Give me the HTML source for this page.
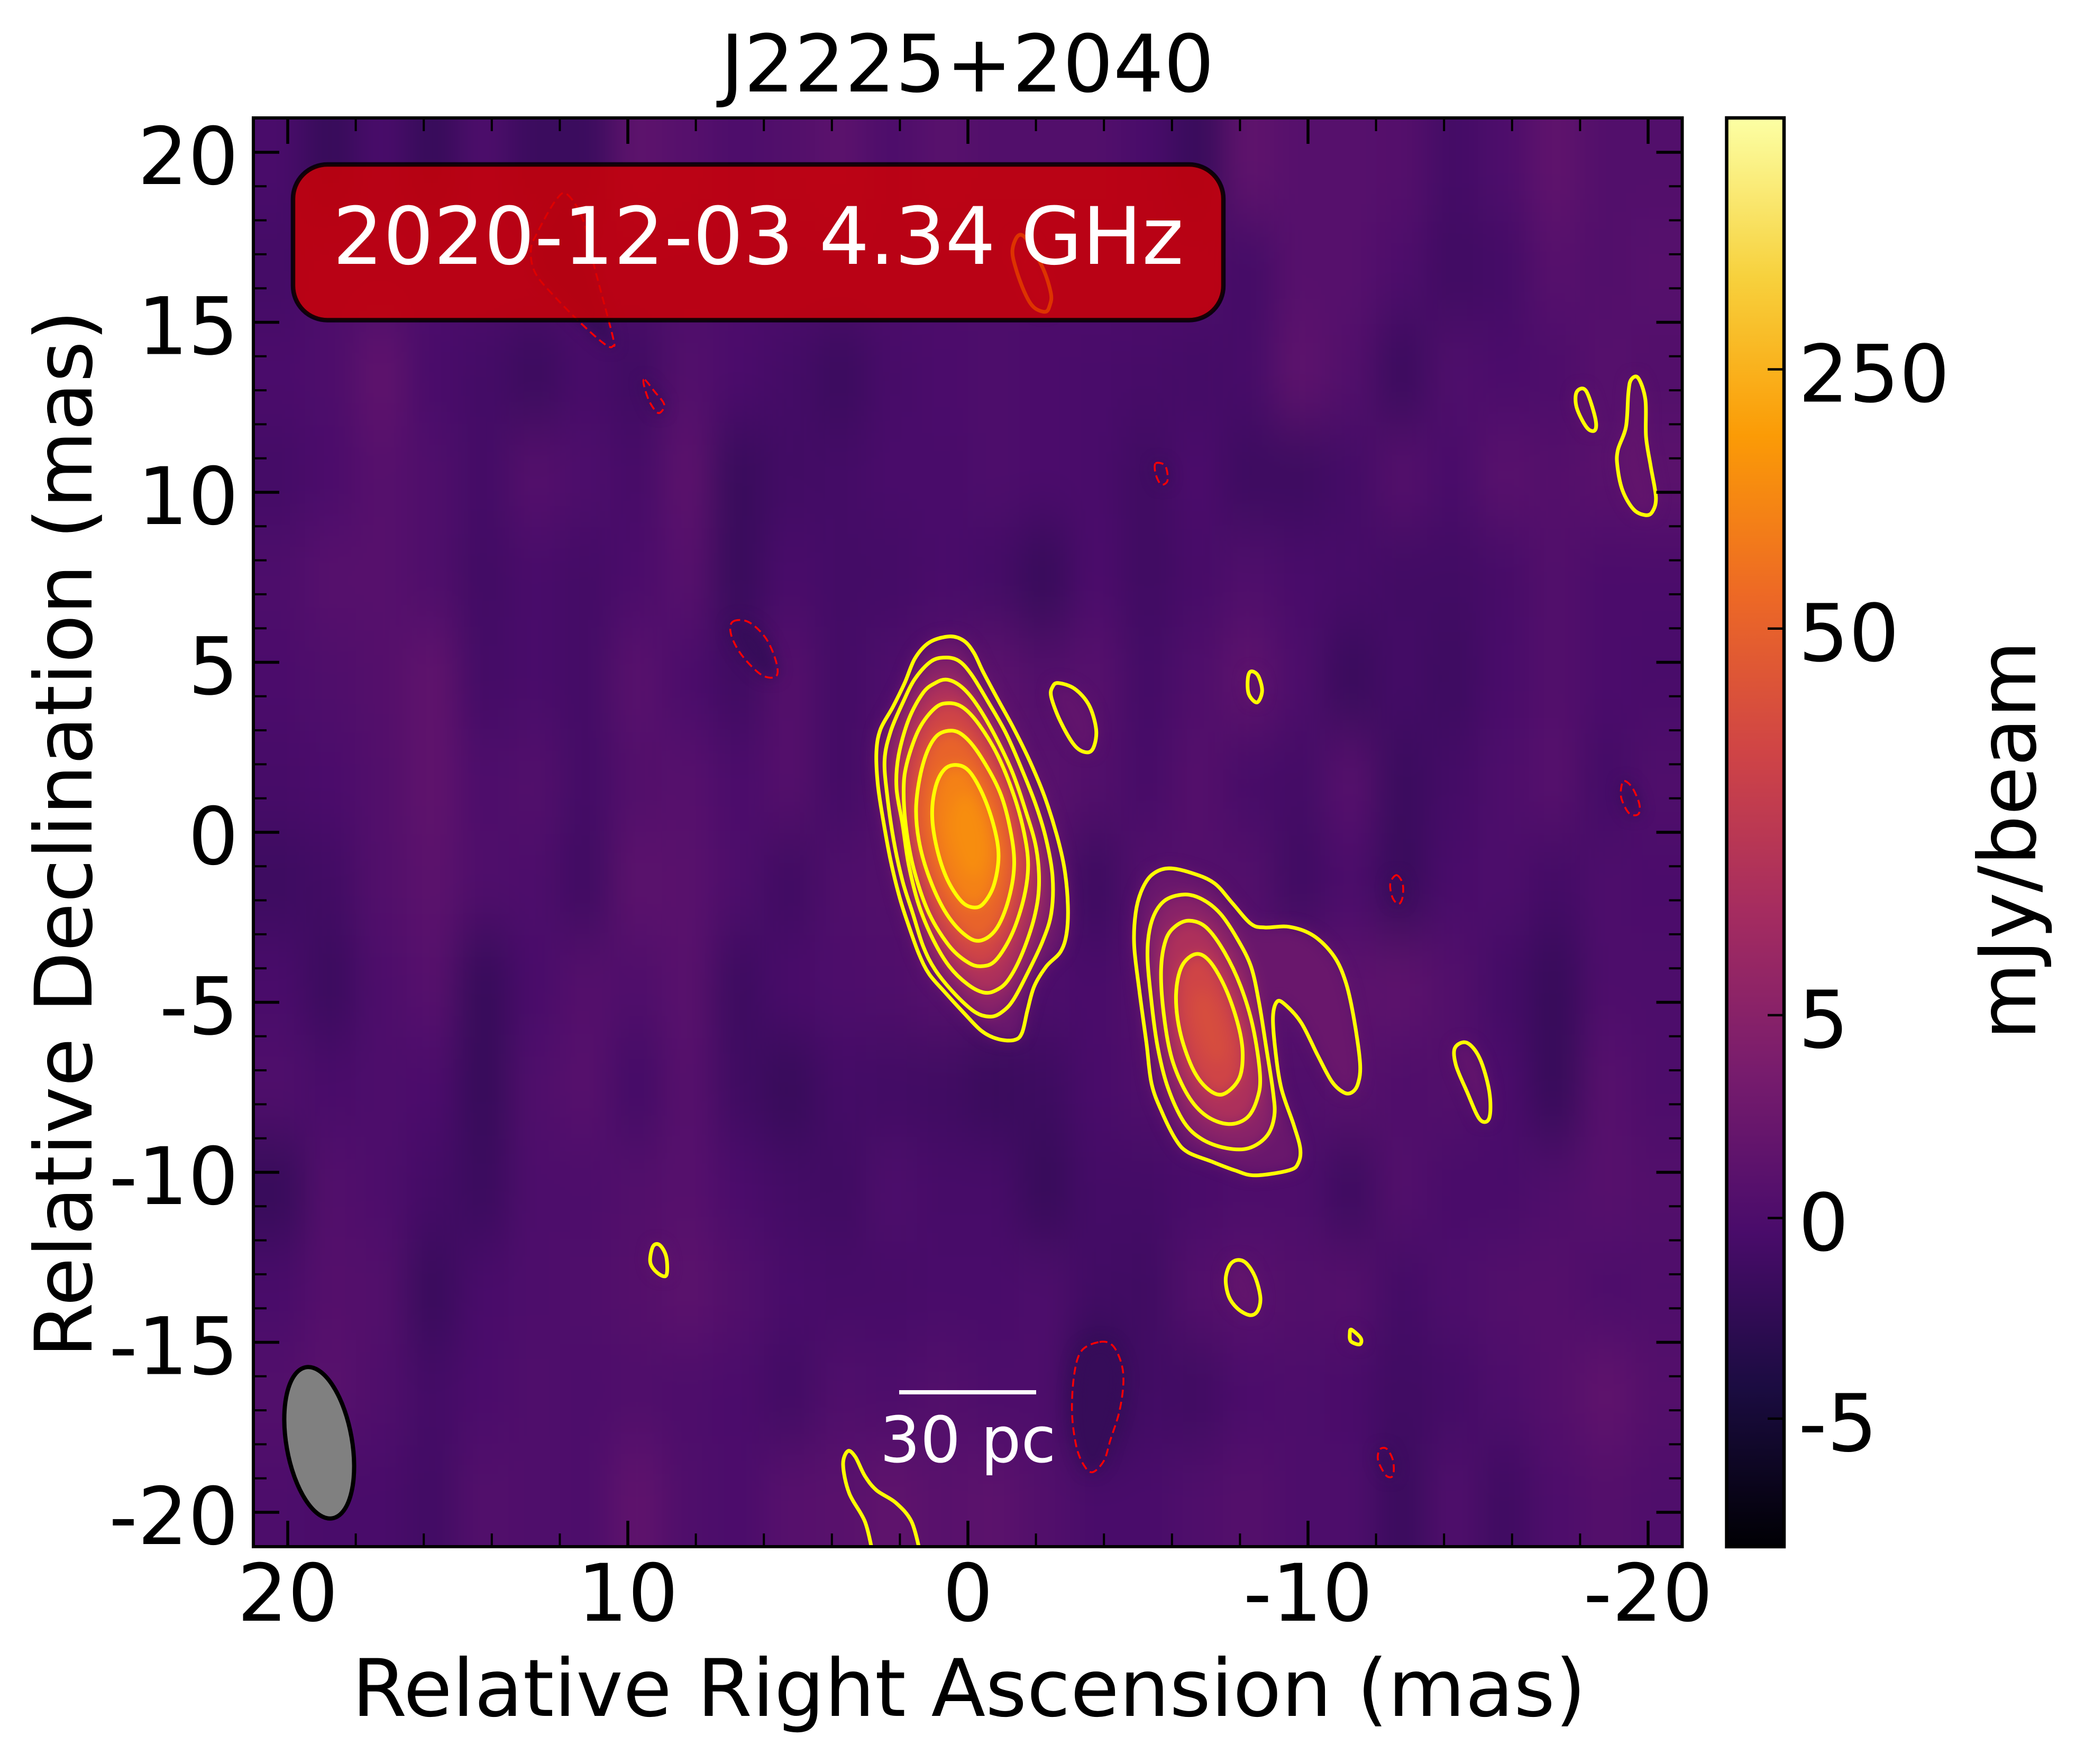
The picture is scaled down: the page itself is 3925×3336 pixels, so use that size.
<!DOCTYPE html>
<html lang="en">
<head>
<meta charset="utf-8">
<title>J2225+2040</title>
<style>
html,body{margin:0;padding:0;background:#fff;width:3925px;height:3336px;overflow:hidden}
svg{display:block}
text{font-family:"DejaVu Sans","Liberation Sans",sans-serif;font-size:150px;fill:#000}
</style>
</head>
<body>
<svg id="chart" xmlns="http://www.w3.org/2000/svg" width="3925" height="3336" viewBox="0 0 3925 3336">
  <defs>
    <clipPath id="axes-clip"><rect x="479" y="223" width="2701.5" height="2702"/></clipPath>
    <filter id="noise-blur" filterUnits="userSpaceOnUse" x="250" y="0" width="3200" height="3200" color-interpolation-filters="sRGB"><feGaussianBlur stdDeviation="30 62"/></filter>
    <filter id="source-blur" filterUnits="userSpaceOnUse" x="300" y="50" width="3100" height="3100" color-interpolation-filters="sRGB"><feGaussianBlur stdDeviation="13"/></filter>
    <linearGradient id="inferno-gradient" x1="0" y1="1" x2="0" y2="0"></linearGradient>
  </defs>
  <rect x="0" y="0" width="3925" height="3336" fill="#fff"/>
  <text x="1829" y="173" text-anchor="middle">J2225+2040</text>
  <g clip-path="url(#axes-clip)">
    <rect x="479" y="223" width="2702" height="2702" fill="#4c0e6b"/>
    <g id="heatmap" filter="url(#noise-blur)"></g>
    <g id="source-fill" filter="url(#source-blur)"></g>
    <g id="contours" fill="none"></g>
    <ellipse cx="603.5" cy="2728.5" rx="62" ry="145" transform="rotate(-10 603.5 2728.5)" fill="#808080" stroke="#000" stroke-width="8"/>
    <rect x="554" y="311" width="1759" height="294.5" rx="65" ry="65" fill="rgb(213,0,0)" fill-opacity="0.8" stroke="#000" stroke-opacity="0.85" stroke-width="8.5"/>
    <text x="1433.5" y="499" text-anchor="middle" style="fill:#fff">2020-12-03 4.34 GHz</text>
    <rect x="1700" y="2629" width="259" height="8" fill="#fff"/>
    <text x="1830" y="2765" text-anchor="middle" style="fill:#fff;font-size:120px">30 pc</text>
  </g>
  <g id="ticks"></g>
  <rect x="479" y="223" width="2701.5" height="2702" fill="none" stroke="#000" stroke-width="6"/>
  <text x="1832" y="3245" text-anchor="middle">Relative Right Ascension (mas)</text>
  <text transform="translate(173 1577) rotate(-90)" text-anchor="middle">Relative Declination (mas)</text>
  <rect x="3264.5" y="223" width="108.5" height="2702" fill="url(#inferno-gradient)"/>
  <g id="cbar-ticks"></g>
  <rect x="3264.5" y="223" width="108.5" height="2702" fill="none" stroke="#000" stroke-width="6.5"/>
  <text transform="translate(3848 1589) rotate(-90)" text-anchor="middle">mJy/beam</text>
</svg>
<script>
// ---- axis ticks and labels ----
const xMajorTicks = [20, 10, 0, -10, -20];
const xMinorTicks = [18, 16, 14, 12, 8, 6, 4, 2, -2, -4, -6, -8, -12, -14, -16, -18];
const xTickLabels = ["20", "10", "0", "-10", "-20"];
const yMajorTicks = [20, 15, 10, 5, 0, -5, -10, -15, -20];
const yMinorTicks = [19,18,17,16,14,13,12,11,9,8,7,6,4,3,2,1,-1,-2,-3,-4,-6,-7,-8,-9,-11,-12,-13,-14,-16,-17,-18,-19];
const yTickLabels = ["20", "15", "10", "5", "0", "-5", "-10", "-15", "-20"];

// ---- colour scale ----
const cbarTickValues = [-5, 0, 5, 50, 250];
const cbarTickLabels = ["-5", "0", "5", "50", "250"];
const cbarTickFractions = [0.0896, 0.230, 0.372, 0.6426, 0.824];
const infernoColors = ["#000004","#1b0c41","#4a0c6b","#781c6d","#a52c60","#cf4446","#ed6925","#fb9b06","#f7d13d","#fcffa4"];

// ---- background noise map (rows top to bottom, columns east to west) ----
const noiseXCenters = [20.25,18.75,17.25,15.75,14.25,12.75,11.25,9.75,8.25,6.75,5.25,3.75,2.25,0.75,-0.75,-2.25,-3.75,-5.25,-6.75,-8.25,-9.75,-11.25,-12.75,-14.25,-15.75,-17.25,-18.75,-20.25];
const noiseYCenters = [19.5,16.5,13.5,10.5,7.5,4.5,1.5,-1.5,-4.5,-7.5,-10.5,-13.5,-16.5,-19.5];
const noiseCellWidth = 1.5;
const noiseCellHeight = 3;
const noiseZero = 10;
const noiseUnit = 0.19;
const noiseRows = [
 [-12,-20,-12,-20,-10,-18,-18,-3,-6,-10,-8,-4,-10,-5, -8,-8,-8,-12,-19,-2,-6,-6,-7,-14,-10,-2,-8,-8],
 [-14,-10,-10,-10,-10,-10,-10,-10,-10,-10,-10,-10,-10,-10, -10,-10,-10,-10,-10,-14,-6,-6,-10,-16,-14,-6,-8,-6],
 [-11,-10,-2,-12,-14,-18,-13,-16,-8,-11,-14,-18,-13,-11, -10,-11,-12,-13,-14,-13,-3,-8,-18,-9,-11,-10,-6,-8],
 [-14,-11,-6,-9,-14,-7,-10,-13,-4,-19,-15,-14,-12,-12, -10,-11,-12,-16,-11,-17,-17,-14,-7,-12,-5,-7,-5,-4],
 [-10,-6,-6,-9,-15,-12,-14,-11,-6,-19,-12,-14,-14,-12, -14,-20,-11,-16,-13,-9,-12,-13,-15,-15,-13,-8,-11,-11],
 [-11,-9,-7,-2,-14,-12,-14,-5,-11,-16,-7,-14,-10,-7, -4,-8,-6,-14,-9,-3,-10,-19,-14,-17,-12,-8,-11,-12],
 [-13,-11,-8,-2,-10,-8,-14,-8,-6,-11,-7,-14,-8,0, -2,-5,-8,-13,-7,-13,-14,-6,-18,-14,-10,-6,-14,-9],
 [-17,-15,-8,-4,-9,-10,-16,-4,-5,-10,-16,-9,-8,-4, -4,-6,-17,-8,-8,-8,-16,-11,-19,-12,-10,-14,-10,-11],
 [-12,-18,-10,-6,-20,-12,-7,-9,-5,-17,-12,-10,-9,-6, -8,-10,-12,-8,-6,-6,-5,-4,-3,-8,-14,-20,-10,-10],
 [-9,-12,-10,-11,-20,-9,-6,-14,-6,-16,-20,-14,-15,-16, -19,-17,-12,-9,-7,-7,-9,-5,-9,-8,-11,-20,-6,-10],
 [-20,-8,-10,-14,-18,-10,-10,-8,-6,-11,-14,-16,-10,-13, -13,-20,-14,-14,-12,-10,-10,-17,-8,-12,-12,-9,-6,-8],
 [-12,-7,-8,-19,-12,-10,-9,-7,-4,-8,-12,-13,-13,-12, -12,-10,-15,-16,-8,-5,-8,-7,-14,-10,-8,-7,-10,-9],
 [-8,-5,-9,-14,-11,-9,-10,-9,-10,-11,-15,-9,-10,-8, -10,-10,-26,-15,-16,-11,-10,-12,-16,-14,-10,-7,-2,-7],
 [-10,-12,-12,-15,-8,-9,-10,-2,-9,-11,-6,-5,-2,-5, -4,-8,-12,-12,-9,-7,-10,-10,-18,-9,-16,-10,-7,-9]
];

// ---- positive contours, in mas (RA, Dec) ----
const coreContour1 = [[.55,5.76],[.13,5.64],[-.17,5.29],[-.46,4.69],[-.94,3.80],[-1.36,3.03],[-1.83,2.07],[-2.25,1.06],[-2.61,-.07],[-2.84,-1.08],[-2.94,-2.15],[-2.90,-2.98],[-2.72,-3.52],[-2.31,-3.94],[-1.95,-4.53],[-1.75,-5.24],[-1.59,-5.90],[-1.36,-6.11],[-.88,-6.08],[-.40,-5.84],[.13,-5.30],[.67,-4.71],[1.14,-4.17],[1.44,-3.58],[1.74,-2.75],[2.01,-1.91],[2.27,-.84],[2.49,.35],[2.65,1.42],[2.69,2.37],[2.57,3.03],[2.21,3.68],[1.86,4.39],[1.56,5.11],[1.14,5.58]];
const coreContour2 = [[.63,5.14],[.25,5.03],[-.11,4.63],[-.58,3.86],[-1.12,2.91],[-1.59,1.84],[-2.01,.77],[-2.31,-.25],[-2.49,-1.32],[-2.45,-2.39],[-2.19,-3.22],[-1.77,-4.11],[-1.36,-4.89],[-1.06,-5.24],[-.70,-5.42],[-.23,-5.30],[.37,-4.77],[.96,-4.05],[1.32,-3.34],[1.62,-2.39],[1.92,-1.44],[2.18,-.25],[2.37,1.06],[2.45,2.13],[2.27,2.97],[1.92,3.80],[1.56,4.51],[1.08,5.03]];
const coreContour3 = [[.61,4.49],[.19,4.28],[-.23,3.80],[-.76,2.91],[-1.30,1.78],[-1.71,.59],[-2.01,-.48],[-2.09,-1.56],[-1.95,-2.51],[-1.59,-3.58],[-1.18,-4.35],[-.82,-4.65],[-.46,-4.71],[.01,-4.47],[.55,-3.94],[1.02,-3.16],[1.44,-2.15],[1.74,-.96],[1.92,.23],[2.10,1.30],[2.04,2.25],[1.74,3.32],[1.32,4.10],[.96,4.39]];
const coreContour4 = [[.55,3.80],[.13,3.66],[-.34,3.15],[-.88,2.25],[-1.36,1.06],[-1.65,-.01],[-1.77,-.96],[-1.65,-1.91],[-1.30,-2.98],[-.82,-3.76],[-.40,-3.94],[.01,-3.82],[.55,-3.34],[1.14,-2.39],[1.56,-1.20],[1.80,-.01],[1.89,1.18],[1.80,2.01],[1.44,3.03],[.96,3.66]];
const coreContour5 = [[.49,2.99],[.07,2.79],[-.40,2.19],[-.94,1.18],[-1.24,.11],[-1.36,-.96],[-1.18,-2.03],[-.82,-2.86],[-.34,-3.19],[.13,-2.98],[.67,-2.33],[1.14,-1.32],[1.44,-.25],[1.52,.82],[1.32,2.01],[.96,2.79]];
const coreContour6 = [[.33,1.98],[-.05,1.78],[-.46,1.06],[-.78,.11],[-.90,-.72],[-.76,-1.56],[-.46,-2.09],[-.17,-2.21],[.19,-2.03],[.61,-1.38],[.91,-.48],[1.05,.47],[.96,1.30],[.70,1.84]];
const jetContour1 = [[-5.88,-1.06],[-6.59,-1.20],[-7.25,-1.50],[-7.78,-2.09],[-8.32,-2.69],[-8.73,-2.80],[-9.45,-2.78],[-10.16,-3.04],[-10.76,-3.64],[-11.11,-4.41],[-11.35,-5.48],[-11.53,-6.79],[-11.47,-7.39],[-11.29,-7.65],[-11.05,-7.65],[-10.70,-7.33],[-10.28,-6.55],[-9.80,-5.60],[-9.33,-5.07],[-9.09,-4.98],[-8.97,-5.42],[-9.03,-6.32],[-9.21,-7.51],[-9.57,-8.58],[-9.77,-9.29],[-9.72,-9.71],[-9.45,-9.94],[-8.44,-10.09],[-7.84,-9.94],[-7.13,-9.67],[-6.47,-9.41],[-6.12,-9.05],[-5.70,-8.22],[-5.40,-7.39],[-5.25,-6.20],[-5.04,-4.65],[-4.89,-3.34],[-4.93,-2.39],[-5.10,-1.73],[-5.40,-1.26]];
const jetContour2 = [[-6.35,-1.83],[-6.89,-1.97],[-7.42,-2.39],[-7.90,-3.10],[-8.32,-3.94],[-8.56,-5.01],[-8.77,-6.32],[-8.97,-7.62],[-9.01,-8.34],[-8.79,-8.93],[-8.26,-9.29],[-7.60,-9.29],[-6.89,-9.03],[-6.35,-8.52],[-5.88,-7.51],[-5.58,-6.32],[-5.40,-5.01],[-5.28,-3.58],[-5.40,-2.63],[-5.76,-2.03]];
const jetContour3 = [[-6.53,-2.60],[-7.01,-2.80],[-7.54,-3.52],[-8.02,-4.53],[-8.38,-5.72],[-8.59,-7.15],[-8.50,-7.86],[-8.20,-8.40],[-7.66,-8.58],[-7.01,-8.34],[-6.47,-7.74],[-6.00,-6.67],[-5.76,-5.36],[-5.68,-4.05],[-5.82,-3.16],[-6.12,-2.75]];
const jetContour4 = [[-6.71,-3.58],[-7.13,-3.82],[-7.60,-4.65],[-7.96,-5.72],[-8.08,-6.55],[-7.96,-7.27],[-7.48,-7.71],[-7.01,-7.51],[-6.59,-6.91],[-6.23,-5.84],[-6.12,-4.77],[-6.29,-3.94]];

// ---- isolated positive islands, in mas ----
const islandNearCore = [[-2.66,4.39],[-3.14,4.22],[-3.56,3.74],[-3.77,3.03],[-3.70,2.51],[-3.50,2.35],[-3.14,2.55],[-2.72,3.26],[-2.45,3.98],[-2.49,4.28]];
const islandSmallUpper = [[-8.32,4.73],[-8.53,4.61],[-8.65,4.16],[-8.50,3.82],[-8.26,4.06],[-8.23,4.51]];
const islandFarRight = [[-19.50,13.31],[-19.71,13.36],[-19.92,12.72],[-19.94,11.63],[-20.08,10.75],[-20.23,9.84],[-20.12,9.42],[-19.91,9.33],[-19.57,9.50],[-19.25,10.05],[-19.10,10.75],[-19.11,11.24],[-19.35,11.93],[-19.42,12.92]];
const islandUpperRight = [[-17.9,12.95],[-18.17,12.99],[-18.44,12.21],[-18.44,11.83],[-18.2,11.9],[-17.9,12.49]];
const islandEast = [[-14.32,-6.34],[-14.67,-6.19],[-15.05,-6.65],[-15.33,-7.62],[-15.33,-8.40],[-15.05,-8.44],[-14.67,-7.62],[-14.35,-6.85]];
const islandSouth = [[-7.93,-12.58],[-8.19,-12.68],[-8.45,-13.09],[-8.60,-13.70],[-8.51,-14.09],[-8.28,-14.20],[-7.93,-14.01],[-7.67,-13.65],[-7.58,-13.14],[-7.70,-12.73]];
const islandTiny = [[-11.28,-14.63],[-11.55,-14.88],[-11.52,-15.06],[-11.26,-14.97],[-11.23,-14.73]];
const islandLeft = [[9.26,-12.18],[9.06,-12.14],[8.87,-12.49],[8.87,-13.03],[9.14,-12.95],[9.34,-12.64]];
const islandBadge = [[-1.48,17.55],[-1.74,17.42],[-2.21,16.58],[-2.44,15.85],[-2.41,15.51],[-2.28,15.31],[-1.94,15.44],[-1.68,15.85],[-1.41,16.58],[-1.31,17.12]];
const openContourBottom = [[1.40,-21.2],[1.66,-20.27],[2.12,-19.72],[2.69,-19.35],[3.03,-18.93],[3.31,-18.37],[3.53,-18.20],[3.67,-18.60],[3.49,-19.44],[3.03,-20.27],[2.80,-21.2]];

// ---- negative contours (dashed), in mas ----
const negBadge = [[11.78,18.76],[11.31,17.99],[10.97,16.58],[10.44,14.57],[10.44,14.30],[10.64,14.33],[11.24,14.84],[12.11,15.71],[12.72,16.45],[12.85,17.12],[12.65,17.66],[12.11,18.60]];
const negUpperLeft = [[9.50,13.31],[9.22,12.97],[8.93,12.58],[9.10,12.33],[9.36,12.66],[9.53,13.17]];
const negMidLeft = [[6.92,6.19],[6.46,6.19],[5.95,5.72],[5.64,5.02],[5.64,4.59],[6.07,4.63],[6.65,5.21],[6.96,5.80]];
const negTop = [[-5.52,10.85],[-5.80,10.78],[-5.87,10.35],[-5.68,10.23],[-5.52,10.54]];
const negRight = [[-19.30,1.51],[-19.53,1.32],[-19.74,.84],[-19.71,.53],[-19.44,.56],[-19.22,.98],[-19.21,1.32]];
const negEast = [[-12.60,-1.26],[-12.78,-1.50],[-12.78,-1.91],[-12.66,-2.11],[-12.48,-1.91],[-12.42,-1.50]];
const negBig = [[-3.87,-14.99],[-4.25,-15.09],[-4.51,-15.61],[-4.57,-16.22],[-4.45,-17.05],[-4.19,-17.87],[-4.00,-18.48],[-3.67,-18.82],[-3.42,-18.63],[-3.19,-18.07],[-3.06,-17.05],[-3.13,-15.91],[-3.35,-15.24]];
const negSouth = [[-12.12,-18.14],[-12.32,-18.14],[-12.50,-18.48],[-12.50,-18.91],[-12.32,-18.94],[-12.12,-18.63],[-12.05,-18.38]];

// ---- interior isophotes used only for the emission colour ----
const corePeak = [[.25,1.1],[-.2,.9],[-.5,.1],[-.55,-.7],[-.3,-1.3],[.05,-1.2],[.4,-.5],[.55,.3]];
const jetPeak = [[-6.75,-4.6],[-7.2,-4.9],[-7.5,-5.7],[-7.6,-6.5],[-7.3,-6.8],[-6.9,-6.3],[-6.6,-5.4]];

// ---- emission inside each contour, mJy/beam ----
const coreLevelFlux = [2.3, 5, 11, 24, 53, 100];
const jetLevelFlux = [2.4, 5, 11, 24];
const corePeakFlux = 125;
const jetPeakFlux = 30;
const islandFlux = 1.7;
const negativeFlux = -2.0;

const coreContours = [coreContour1, coreContour2, coreContour3, coreContour4, coreContour5, coreContour6];
const jetContours = [jetContour1, jetContour2, jetContour3, jetContour4];
const islandContours = [islandNearCore, islandSmallUpper, islandFarRight, islandUpperRight, islandEast, islandSouth, islandTiny, islandLeft, islandBadge];
const negativeContours = [negBadge, negUpperLeft, negMidLeft, negTop, negRight, negEast, negBig, negSouth];

// ---- axis functions ----
const NS = "http://www.w3.org/2000/svg";
function xPx(ra) { return 1830 - ra * 64.3; }
function yPx(dec) { return 1574 - dec * 64.3; }
function cbarPx(frac) { return 2925 - frac * 2702; }

function normFraction(v) {
  const vals = cbarTickValues, fr = cbarTickFractions;
  let i = 0;
  while (i < vals.length - 2 && v > vals[i + 1]) i++;
  let t;
  if (i >= 2) t = Math.log10(Math.max(v, 0.01) / vals[i]) / Math.log10(vals[i + 1] / vals[i]);
  else t = (v - vals[i]) / (vals[i + 1] - vals[i]);
  return fr[i] + t * (fr[i + 1] - fr[i]);
}
function hexChannel(hex, k) { return parseInt(hex.substr(1 + 2 * k, 2), 16); }
function colorAt(frac) {
  const f = Math.min(1, Math.max(0, frac)) * (infernoColors.length - 1);
  const i = Math.min(infernoColors.length - 2, Math.floor(f));
  const t = f - i;
  const c = [0, 1, 2].map(function (k) {
    return Math.round(hexChannel(infernoColors[i], k) * (1 - t) + hexChannel(infernoColors[i + 1], k) * t);
  });
  return "rgb(" + c.join(",") + ")";
}
function fluxColor(v) { return colorAt(normFraction(v)); }

function smoothPath(pts, closed) {
  const P = pts.map(function (p) { return [xPx(p[0]), yPx(p[1])]; });
  const n = P.length;
  function at(i) { return closed ? P[(i + n) % n] : P[Math.max(0, Math.min(n - 1, i))]; }
  let d = "M" + P[0][0].toFixed(1) + " " + P[0][1].toFixed(1);
  const last = closed ? n : n - 1;
  for (let i = 0; i < last; i++) {
    const p0 = at(i - 1), p1 = at(i), p2 = at(i + 1), p3 = at(i + 2);
    d += "C" + (p1[0] + (p2[0] - p0[0]) / 6).toFixed(1) + " " + (p1[1] + (p2[1] - p0[1]) / 6).toFixed(1) + " " +
         (p2[0] - (p3[0] - p1[0]) / 6).toFixed(1) + " " + (p2[1] - (p3[1] - p1[1]) / 6).toFixed(1) + " " +
         p2[0].toFixed(1) + " " + p2[1].toFixed(1);
  }
  return d + (closed ? "Z" : "");
}

// ---- colorbar gradient ----
const gradient = document.getElementById("inferno-gradient");
infernoColors.forEach(function (c, i) {
  const stop = document.createElementNS(NS, "stop");
  stop.setAttribute("offset", i / (infernoColors.length - 1));
  stop.setAttribute("stop-color", c);
  gradient.appendChild(stop);
});

// ---- heatmap cells (edge cells run past the frame so the blur stays even) ----
const heatmap = document.getElementById("heatmap");
const lastRow = noiseRows.length - 1;
noiseRows.forEach(function (row, r) {
  row.forEach(function (value, c) {
    const cell = document.createElementNS(NS, "rect");
    
    
    const left = xPx(noiseXCenters[c] + noiseCellWidth / 2) - (c === 0 ? 150 : 0);
    const right = xPx(noiseXCenters[c] - noiseCellWidth / 2) + (c === row.length - 1 ? 150 : 0);
    const top = yPx(noiseYCenters[r] + noiseCellHeight / 2) - (r === 0 ? 200 : 0);
    const bottom = yPx(noiseYCenters[r] - noiseCellHeight / 2) + (r === lastRow ? 200 : 0);
    cell.setAttribute("x", left);
    cell.setAttribute("y", top);
    cell.setAttribute("width", right - left + 1);
    cell.setAttribute("height", bottom - top + 1);
    cell.setAttribute("fill", fluxColor((value + noiseZero) * noiseUnit));
    heatmap.appendChild(cell);
  });
});

// ---- emission colour inside contours ----
const sourceFill = document.getElementById("source-fill");
function addFill(pts, flux) {
  const path = document.createElementNS(NS, "path");
  
  
  path.setAttribute("d", smoothPath(pts, true));
  path.setAttribute("fill", fluxColor(flux));
  sourceFill.appendChild(path);
}
islandContours.forEach(function (c) { addFill(c, islandFlux); });
negativeContours.forEach(function (c) { addFill(c, negativeFlux); });
coreContours.forEach(function (c, i) { addFill(c, coreLevelFlux[i]); });
jetContours.forEach(function (c, i) { addFill(c, jetLevelFlux[i]); });
addFill(corePeak, corePeakFlux);
addFill(jetPeak, jetPeakFlux);

// ---- contour lines ----
const contourGroup = document.getElementById("contours");
function addContour(pts, closed, dashed) {
  const path = document.createElementNS(NS, "path");
  
  
  path.setAttribute("d", smoothPath(pts, closed));
  path.setAttribute("stroke", dashed ? "#ff0000" : "#ffff00");
  path.setAttribute("stroke-width", dashed ? "3.5" : "7");
  path.setAttribute("stroke-linejoin", "round");
  if (dashed) path.setAttribute("stroke-dasharray", "15 8");
  contourGroup.appendChild(path);
}
coreContours.concat(jetContours, islandContours).forEach(function (c) { addContour(c, true, false); });
addContour(openContourBottom, false, false);
negativeContours.forEach(function (c) { addContour(c, true, true); });

// ---- ticks ----
const tickGroup = document.getElementById("ticks");
function addLine(parent, x1, y1, x2, y2, w, name) {
  const line = document.createElementNS(NS, "line");
  
  
  line.setAttribute("x1", x1);
  line.setAttribute("y1", y1);
  line.setAttribute("x2", x2);
  line.setAttribute("y2", y2);
  line.setAttribute("stroke", "#000");
  line.setAttribute("stroke-width", w);
  parent.appendChild(line);
}
function addXTicks(list, len, w, name) {
  list.forEach(function (v) {
    addLine(tickGroup, xPx(v), 2925, xPx(v), 2925 - len, w, name);
    addLine(tickGroup, xPx(v), 223, xPx(v), 223 + len, w, name);
  });
}
function addYTicks(list, len, w, name) {
  list.forEach(function (v) {
    addLine(tickGroup, 479, yPx(v), 479 + len, yPx(v), w, name);
    addLine(tickGroup, 3180.5, yPx(v), 3180.5 - len, yPx(v), w, name);
  });
}
addXTicks(xMajorTicks, 49, 5.5, "x-major-tick");
addXTicks(xMinorTicks, 25, 4, "x-minor-tick");
addYTicks(yMajorTicks, 49, 5.5, "y-major-tick");
addYTicks(yMinorTicks, 25, 4, "y-minor-tick");

function addLabel(parent, x, y, str, anchor, name) {
  const t = document.createElementNS(NS, "text");
  
  
  t.setAttribute("x", x);
  t.setAttribute("y", y);
  t.setAttribute("text-anchor", anchor);
  t.textContent = str;
  parent.appendChild(t);
}
xMajorTicks.forEach(function (v, i) { addLabel(tickGroup, xPx(v), 3065, xTickLabels[i], "middle", "x-tick-label"); });
yMajorTicks.forEach(function (v, i) { addLabel(tickGroup, 451, yPx(v) + 60, yTickLabels[i], "end", "y-tick-label"); });

// ---- colorbar ticks ----
const cbarGroup = document.getElementById("cbar-ticks");
cbarTickValues.forEach(function (v, i) {
  const y = cbarPx(normFraction(v));
  addLine(cbarGroup, 3373, y, 3342, y, 4.5, "colorbar-tick");
  addLabel(cbarGroup, 3400, y + 61, cbarTickLabels[i], "start", "colorbar-tick-label");
});
</script>
</body>
</html>
